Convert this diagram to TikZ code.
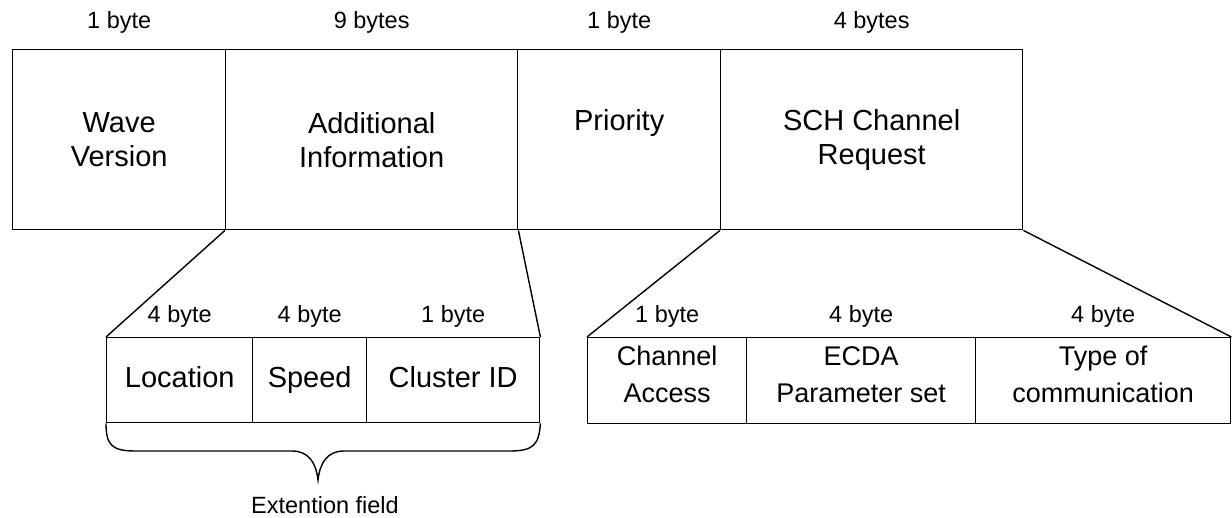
\documentclass[tikz,border=0pt]{standalone}
\usepackage{fontspec}
\setmainfont{Liberation Sans}
\begin{document}
\begin{tikzpicture}[x=1pt,y=-1pt, line width=1.4pt, line join=miter,
 cell/.style={draw, inner sep=0pt, anchor=north west, align=center, font=\fontsize{29}{34}\selectfont},
 extcell/.style={cell, text height=21pt, text depth=7pt},
 schcell/.style={cell, font=\fontsize{27}{37}\selectfont, text depth=12pt},
 lbl/.style={font=\fontsize{23.5}{28}\selectfont, inner sep=0pt}]
\useasboundingbox (0,0) rectangle (1232,518);
% top row
\node[cell, minimum width=213pt, minimum height=180pt] (wv) at (12,49) {Wave\\Version};
\node[cell, minimum width=292pt, minimum height=180pt] (ai) at (225,49) {Additional\\Information};
\node[cell, minimum width=203pt, minimum height=180pt] (pr) at (517,49) {Priority\\\phantom{Priority}};
\node[cell, minimum width=302pt, minimum height=180pt] (sch) at (720,49) {SCH Channel\\Request};
\node[lbl] (t1) at (wv.center |- 0,22) {1 byte};
\node[lbl] (t2) at (ai.center |- 0,22) {9 bytes};
\node[lbl] (t3) at (pr.center |- 0,22) {1 byte};
\node[lbl] (t4) at (sch.center |- 0,22) {4 bytes};
% bottom left
\node[extcell, minimum width=146pt, minimum height=85pt] (loc) at (106,337) {Location};
\node[extcell, minimum width=114pt, minimum height=85pt] (spd) at (252,337) {Speed};
\node[extcell, minimum width=173pt, minimum height=85pt] (cid) at (366,337) {Cluster ID};
\node[lbl] (b1) at (loc.center |- 0,316) {4 byte};
\node[lbl] (b2) at (spd.center |- 0,316) {4 byte};
\node[lbl] (b3) at (cid.center |- 0,316) {1 byte};
% bottom right
\node[schcell, minimum width=159pt, minimum height=86pt] (ca) at (587,337) {Channel\\Access};
\node[schcell, minimum width=229pt, minimum height=86pt] (ecda) at (746,337) {ECDA\\Parameter set};
\node[schcell, minimum width=255pt, minimum height=86pt] (toc) at (975,337) {Type of\\communication};
\node[lbl] (c1) at (ca.center |- 0,316) {1 byte};
\node[lbl] (c2) at (ecda.center |- 0,316) {4 byte};
\node[lbl] (c3) at (toc.center |- 0,316) {4 byte};
% expansion lines
\draw (ai.south west) -- (loc.north west);
\draw (ai.south east) -- (cid.north east);
\draw (sch.south west) -- (ca.north west);
\draw (sch.south east) -- (toc.north east);
% brace
\coordinate (tip) at (318,480);
\draw (loc.south west) .. controls (106,445) and (112,451) .. (135,451)
  -- (292,451) .. controls (308,451) and (316,462) .. (tip)
  .. controls (320,462) and (328,451) .. (344,451)
  -- (510,451) .. controls (533,451) and (539,445) .. (cid.south east);
\node[lbl] (ext) at (325,505) {Extention field};
\end{tikzpicture}
\end{document}
